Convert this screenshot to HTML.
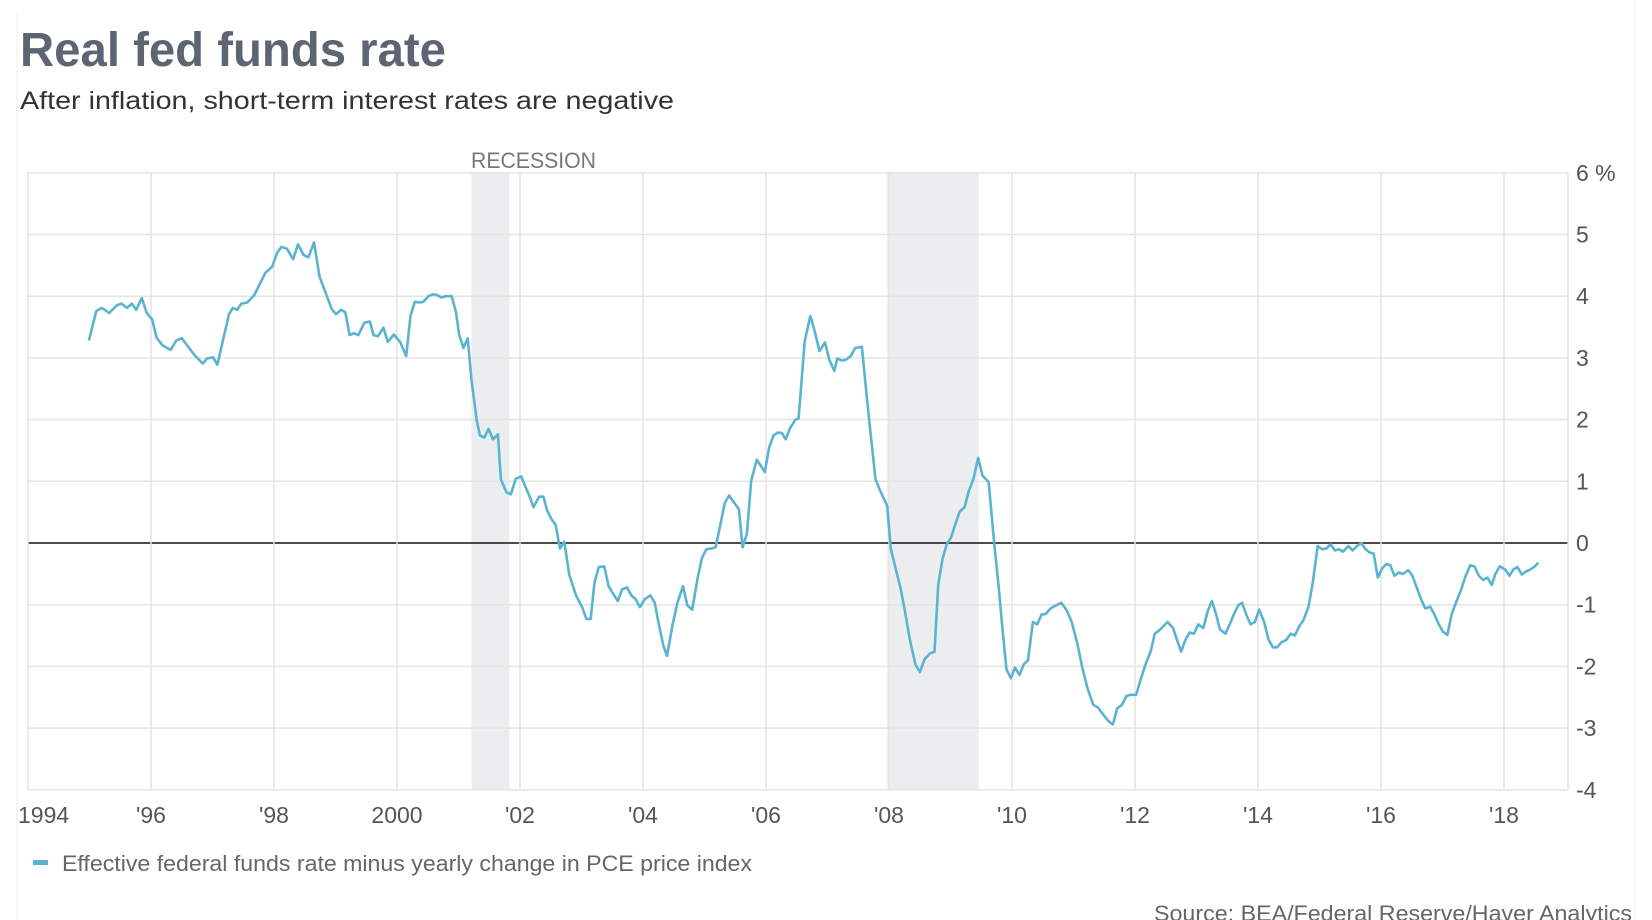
<!DOCTYPE html>
<html><head><meta charset="utf-8"><style>
html,body{margin:0;padding:0;background:#fff;width:1652px;height:920px;overflow:hidden}
svg{display:block;font-family:"Liberation Sans",sans-serif}
</style></head><body>
<svg id="chart" width="1652" height="920">
<line x1="17" y1="14" x2="17" y2="920" stroke="#eeeeee" stroke-width="1"/>
<line x1="1635" y1="0" x2="1635" y2="920" stroke="#eeeeee" stroke-width="1"/>
<text x="20" y="66" font-size="48" font-weight="bold" fill="#5d6472" textLength="426" lengthAdjust="spacingAndGlyphs">Real fed funds rate</text>
<text x="20" y="109" font-size="25" fill="#333" textLength="654" lengthAdjust="spacingAndGlyphs">After inflation, short-term interest rates are negative</text>
<g id="rec"></g>
<g id="grid"></g>
<text x="471" y="168" font-size="22" fill="#777" textLength="125" lengthAdjust="spacingAndGlyphs">RECESSION</text>
<g id="xt"></g>
<g id="yt"></g>
<g id="series"></g>
<rect x="33" y="860" width="15" height="5" fill="#5ab4d1"/>
<text x="62" y="871" font-size="22" fill="#666" textLength="690" lengthAdjust="spacingAndGlyphs">Effective federal funds rate minus yearly change in PCE price index</text>
<text x="1632" y="921" font-size="22" fill="#666" text-anchor="end" textLength="478" lengthAdjust="spacingAndGlyphs">Source: BEA/Federal Reserve/Haver Analytics</text>
</svg>
<script>
const years=[1994.99,1995.11,1995.20,1995.32,1995.44,1995.52,1995.61,1995.69,1995.76,1995.85,1995.93,1996.02,1996.09,1996.19,1996.32,1996.41,1996.50,1996.62,1996.72,1996.84,1996.91,1997.01,1997.08,1997.18,1997.27,1997.33,1997.40,1997.47,1997.57,1997.68,1997.78,1997.86,1997.97,1998.05,1998.12,1998.21,1998.31,1998.39,1998.48,1998.56,1998.65,1998.74,1998.84,1998.94,1999.01,1999.09,1999.16,1999.23,1999.30,1999.37,1999.47,1999.56,1999.62,1999.69,1999.78,1999.85,1999.95,2000.05,2000.15,2000.22,2000.29,2000.36,2000.43,2000.51,2000.58,2000.65,2000.72,2000.80,2000.89,2000.96,2001.01,2001.08,2001.15,2001.21,2001.30,2001.35,2001.42,2001.49,2001.56,2001.64,2001.69,2001.78,2001.85,2001.93,2002.02,2002.09,2002.15,2002.22,2002.31,2002.38,2002.44,2002.51,2002.58,2002.65,2002.72,2002.80,2002.91,2003.01,2003.08,2003.15,2003.21,2003.28,2003.37,2003.44,2003.50,2003.59,2003.66,2003.74,2003.81,2003.88,2003.95,2004.03,2004.12,2004.19,2004.26,2004.33,2004.39,2004.48,2004.56,2004.65,2004.72,2004.80,2004.89,2004.96,2005.03,2005.11,2005.18,2005.25,2005.33,2005.40,2005.47,2005.56,2005.62,2005.69,2005.76,2005.85,2005.91,2005.98,2006.05,2006.12,2006.19,2006.26,2006.32,2006.39,2006.48,2006.53,2006.63,2006.72,2006.79,2006.87,2006.96,2007.03,2007.11,2007.16,2007.23,2007.30,2007.38,2007.45,2007.56,2007.62,2007.69,2007.78,2007.86,2007.97,2008.03,2008.10,2008.19,2008.26,2008.34,2008.43,2008.50,2008.58,2008.67,2008.74,2008.80,2008.87,2008.94,2009.01,2009.08,2009.15,2009.23,2009.30,2009.37,2009.45,2009.52,2009.62,2009.71,2009.78,2009.85,2009.91,2009.98,2010.05,2010.12,2010.19,2010.26,2010.34,2010.41,2010.48,2010.55,2010.63,2010.72,2010.80,2010.89,2010.97,2011.06,2011.15,2011.23,2011.32,2011.40,2011.49,2011.57,2011.64,2011.71,2011.79,2011.86,2011.93,2012.02,2012.09,2012.17,2012.26,2012.32,2012.39,2012.46,2012.53,2012.62,2012.68,2012.75,2012.82,2012.89,2012.96,2013.03,2013.11,2013.18,2013.25,2013.32,2013.38,2013.47,2013.54,2013.61,2013.68,2013.74,2013.81,2013.88,2013.95,2014.02,2014.10,2014.17,2014.24,2014.31,2014.38,2014.46,2014.53,2014.60,2014.67,2014.74,2014.82,2014.89,2014.97,2015.04,2015.11,2015.18,2015.25,2015.32,2015.38,2015.47,2015.54,2015.61,2015.68,2015.74,2015.81,2015.88,2015.95,2016.02,2016.09,2016.15,2016.22,2016.29,2016.36,2016.44,2016.51,2016.58,2016.65,2016.72,2016.80,2016.87,2016.94,2017.01,2017.08,2017.15,2017.23,2017.30,2017.37,2017.45,2017.52,2017.59,2017.66,2017.73,2017.80,2017.86,2017.93,2018.02,2018.09,2018.15,2018.22,2018.29,2018.36,2018.43,2018.50,2018.56];
const rates=[3.28,3.76,3.81,3.73,3.85,3.88,3.81,3.88,3.78,3.97,3.73,3.62,3.33,3.20,3.13,3.28,3.32,3.16,3.03,2.91,2.99,3.01,2.89,3.33,3.71,3.81,3.78,3.88,3.90,4.02,4.22,4.38,4.48,4.70,4.80,4.77,4.60,4.84,4.67,4.63,4.87,4.32,4.05,3.79,3.71,3.78,3.74,3.37,3.40,3.37,3.57,3.59,3.37,3.35,3.49,3.26,3.38,3.26,3.03,3.68,3.91,3.90,3.91,4.00,4.03,4.02,3.98,4.00,4.00,3.74,3.38,3.16,3.32,2.65,1.97,1.74,1.71,1.85,1.68,1.76,1.03,0.82,0.79,1.04,1.08,0.91,0.77,0.58,0.75,0.75,0.53,0.39,0.29,-0.09,0.02,-0.51,-0.85,-1.04,-1.23,-1.23,-0.65,-0.39,-0.38,-0.70,-0.80,-0.94,-0.75,-0.72,-0.85,-0.91,-1.04,-0.91,-0.85,-0.97,-1.33,-1.66,-1.83,-1.33,-0.97,-0.70,-1.01,-1.08,-0.56,-0.24,-0.10,-0.09,-0.07,0.26,0.65,0.77,0.67,0.55,-0.07,0.15,1.01,1.35,1.26,1.15,1.54,1.74,1.79,1.78,1.68,1.86,2.00,2.02,3.27,3.68,3.44,3.11,3.25,2.97,2.79,2.99,2.96,2.97,3.03,3.16,3.18,2.56,1.88,1.03,0.84,0.60,-0.09,-0.38,-0.74,-1.11,-1.57,-1.97,-2.09,-1.88,-1.79,-1.76,-0.68,-0.26,-0.02,0.09,0.31,0.51,0.58,0.85,1.03,1.38,1.09,0.99,0.00,-0.68,-1.45,-2.05,-2.19,-2.02,-2.14,-1.97,-1.90,-1.28,-1.32,-1.16,-1.15,-1.06,-1.01,-0.97,-1.09,-1.28,-1.62,-2.05,-2.36,-2.62,-2.67,-2.79,-2.89,-2.94,-2.68,-2.62,-2.48,-2.46,-2.46,-2.22,-1.97,-1.74,-1.47,-1.42,-1.35,-1.28,-1.38,-1.56,-1.76,-1.57,-1.45,-1.47,-1.32,-1.38,-1.11,-0.94,-1.16,-1.40,-1.47,-1.32,-1.15,-1.01,-0.97,-1.16,-1.32,-1.28,-1.08,-1.28,-1.56,-1.69,-1.69,-1.61,-1.57,-1.47,-1.50,-1.35,-1.25,-1.04,-0.65,-0.05,-0.10,-0.09,-0.02,-0.12,-0.10,-0.14,-0.05,-0.12,-0.05,0.00,-0.09,-0.15,-0.17,-0.56,-0.41,-0.34,-0.36,-0.53,-0.48,-0.50,-0.44,-0.53,-0.72,-0.91,-1.06,-1.03,-1.16,-1.32,-1.44,-1.49,-1.15,-0.94,-0.77,-0.55,-0.36,-0.38,-0.53,-0.60,-0.56,-0.68,-0.50,-0.38,-0.43,-0.53,-0.43,-0.39,-0.51,-0.46,-0.43,-0.38,-0.32];
const xTickYears=[1994,1996,1998,2000,2002,2004,2006,2008,2010,2012,2014,2016,2018];
const xTickLabels=["1994","'96","'98","2000","'02","'04","'06","'08","'10","'12","'14","'16","'18"];
const yTickValues=[6,5,4,3,2,1,0,-1,-2,-3,-4];
const yTickLabels=["6 %","5","4","3","2","1","0","-1","-2","-3","-4"];
const recessionStarts=[2001.21,2007.97];
const recessionEnds=[2001.83,2009.46];

const NS="http://www.w3.org/2000/svg";
const X0=28, PXY=61.5, XMIN=1994, XR=1568;
const Y0=543, PXV=61.7, YB=790;
function xs(y){return X0+(y-XMIN)*PXY;}
function ys(v){return Y0-v*PXV;}
function mk(tag,attrs,parent){const e=document.createElementNS(NS,tag);for(const k in attrs)e.setAttribute(k,attrs[k]);parent.appendChild(e);return e;}

const rec=document.getElementById('rec');
recessionStarts.forEach((s,i)=>{
  const r=mk('rect',{x:xs(s),y:ys(6),width:xs(recessionEnds[i])-xs(s),height:YB-ys(6),fill:'#ecedef'},rec);
  
  
});
const grid=document.getElementById('grid');
yTickValues.forEach(v=>{
  const l=mk('line',{x1:X0,x2:XR,y1:ys(v),y2:ys(v),stroke:v===0?'#111':'#e4e4e4','stroke-width':v===0?1.6:1.5},grid);
  
  
});
const xt=document.getElementById('xt');
xTickYears.forEach((y,i)=>{
  const l=mk('line',{x1:xs(y),x2:xs(y),y1:ys(6),y2:YB,stroke:'#e4e4e4','stroke-width':1.5},grid);
  
  
  const t=mk('text',{x:i===0?18:xs(y),y:823,'font-size':23,fill:'#555','text-anchor':i===0?'start':'middle'},xt);
  t.textContent=xTickLabels[i];
  
  
});
const rl=mk('line',{x1:XR,x2:XR,y1:ys(6),y2:YB,stroke:'#e4e4e4','stroke-width':1.5},grid);


const yt=document.getElementById('yt');
yTickValues.forEach((v,i)=>{
  const t=mk('text',{x:1576,y:ys(v)+8,'font-size':23,fill:'#555'},yt);
  t.textContent=yTickLabels[i];
  
  
});
const series=document.getElementById('series');
const d=years.map((y,i)=>(i?'L':'M')+xs(y).toFixed(1)+','+ys(rates[i]).toFixed(1)).join('');
const p=mk('path',{d:d,fill:'none',stroke:'#5ab4d1','stroke-width':2.6,'stroke-linejoin':'round'},series);


</script>
</body></html>
